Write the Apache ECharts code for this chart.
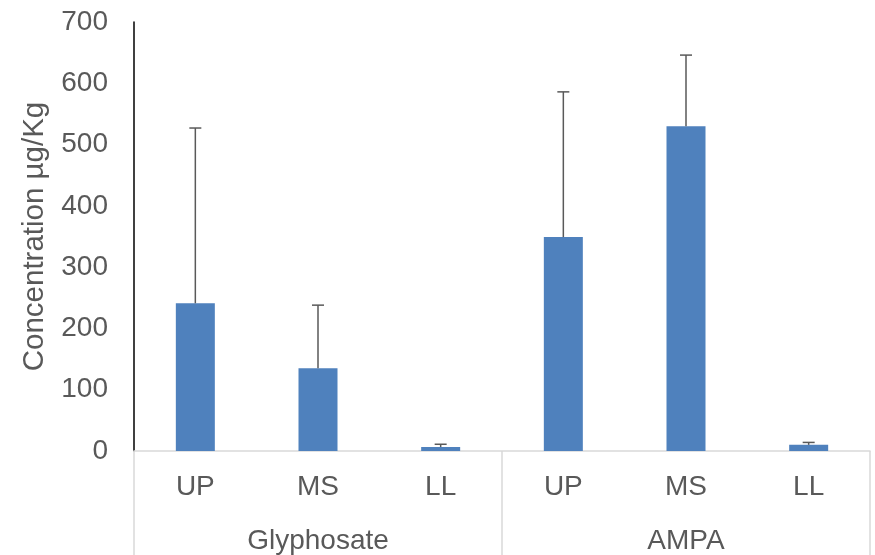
<!DOCTYPE html>
<html>
<head>
<meta charset="utf-8">
<script src="https://cdn.jsdelivr.net/npm/echarts@6/dist/echarts.min.js"></script>
<style>html,body{margin:0;padding:0;background:#fff}#c{width:875px;height:555px}</style>
</head>
<body>
<div id="c"></div>
<script>
var subCategories = ['UP', 'MS', 'LL', 'UP', 'MS', 'LL'];
var groups = ['Glyphosate', 'AMPA'];
var meanValues = [241, 135, 6.5, 349, 530, 10];
var errorTops = [527, 238, 11, 586, 646, 14];
var yTicks = {min: 0, max: 700, interval: 100};

var chart = echarts.init(document.getElementById('c'));
var FONT = '"Liberation Sans", Arial, sans-serif';
var TXT = '#595959';
var errData = meanValues.map(function (v, i) { return [i, v, errorTops[i]]; });

chart.setOption({
  animation: false,
  grid: {left: 134, right: 5, top: 22, bottom: 104, containLabel: false},
  xAxis: [{
    type: 'category',
    data: subCategories,
    position: 'bottom',
    axisLine: {show: true, lineStyle: {color: '#d9d9d9', width: 1.5}},
    axisTick: {show: false},
    axisLabel: {color: TXT, fontSize: 28, fontFamily: FONT, margin: 22},
    splitLine: {show: false}
  }, {
    type: 'category',
    data: groups,
    position: 'bottom',
    axisLine: {show: false},
    axisTick: {show: true, length: 110, lineStyle: {color: '#d9d9d9', width: 1.5}},
    axisLabel: {color: TXT, fontSize: 28, fontFamily: FONT, margin: 76},
    splitLine: {show: false}
  }],
  yAxis: {
    type: 'value',
    min: yTicks.min, max: yTicks.max, interval: yTicks.interval,
    name: 'Concentration µg/Kg',
    nameLocation: 'middle',
    nameGap: 84,
    nameRotate: 90,
    nameTextStyle: {color: TXT, fontSize: 29.5, fontFamily: FONT},
    axisLine: {show: true, lineStyle: {color: '#000', width: 1.5}},
    axisTick: {show: false},
    axisLabel: {color: TXT, fontSize: 28, fontFamily: FONT, margin: 26},
    splitLine: {show: false}
  },
  series: [{
    type: 'bar',
    data: meanValues,
    barWidth: 39,
    itemStyle: {color: '#4F81BD'},
    z: 2
  }, {
    type: 'custom',
    data: errData,
    z: 3,
    renderItem: function (params, api) {
      var x = api.value(0);
      var base = api.coord([x, api.value(1)]);
      var top = api.coord([x, api.value(2)]);
      var hw = 6;
      var style = {stroke: '#595959', lineWidth: 1.5};
      return {
        type: 'group',
        children: [
          {type: 'line', shape: {x1: base[0], y1: base[1], x2: top[0], y2: top[1]}, style: style},
          {type: 'line', shape: {x1: top[0] - hw, y1: top[1], x2: top[0] + hw, y2: top[1]}, style: style}
        ]
      };
    }
  }]
});
</script>
</body>
</html>
